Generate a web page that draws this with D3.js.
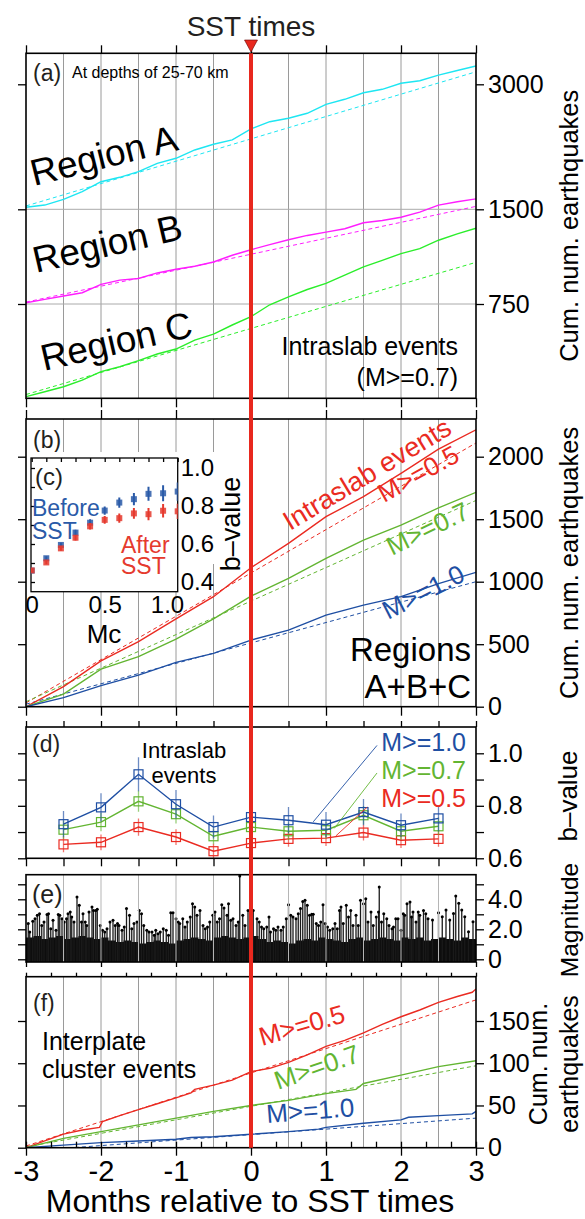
<!DOCTYPE html>
<html>
<head>
<meta charset="utf-8">
<script src="https://cdn.jsdelivr.net/npm/d3@7"></script>
<style>
  body { margin: 0; background: #fff; }
  text { font-family: "Liberation Sans", Arial, Helvetica, sans-serif; }
</style>
</head>
<body>
<div id="chart"></div>
<script>
// ---- data ----
var months = [-3, -2, -1, 0, 1, 2, 3];
var halfMonths = [-3, -2.5, -2, -1.5, -1, -0.5, 0, 0.5, 1, 1.5, 2, 2.5, 3];
var gridMonths = [-2.5, -2, -1.5, -1, -0.5, 0.5, 1, 1.5, 2, 2.5];
var quarterMonths = [-3, -2.75, -2.5, -2.25, -2, -1.75, -1.5, -1.25, -1, -0.75, -0.5, -0.25, 0,
  0.25, 0.5, 0.75, 1, 1.25, 1.5, 1.75, 2, 2.25, 2.5, 2.75, 3];
var fitMonths = [-3, 3];

// (a) cumulative counts, offset per region (axis units)
var regionA = [1524, 1551, 1620, 1711, 1831, 1884, 1951, 2052, 2112, 2212, 2280, 2332, 2464,
  2551, 2592, 2652, 2760, 2820, 2899, 2940, 3012, 3043, 3110, 3165, 3220];
var regionB = [760, 787, 813, 839, 905, 939, 952, 996, 1025, 1049, 1083, 1136, 1180,
  1220, 1259, 1293, 1319, 1346, 1393, 1411, 1437, 1477, 1550, 1590, 1625];
var regionC = [13, 52, 92, 145, 212, 251, 299, 352, 392, 463, 511, 583, 649,
  744, 807, 865, 913, 978, 1044, 1096, 1149, 1188, 1255, 1305, 1350];
var fitA = [1540, 3150], fitB = [765, 1535], fitC = [30, 1080];
var ticksA = [750, 1500, 3000];

// (b) regions A+B+C
var intraM05 = [0, 160, 366, 520, 702, 880, 1112, 1307, 1520, 1680, 1867, 2060, 2215];
var intraM07 = [0, 101, 301, 400, 541, 702, 885, 1027, 1187, 1333, 1453, 1590, 1715];
var intraM10 = [0, 72, 168, 253, 355, 427, 533, 613, 733, 813, 880, 985, 1075];
var fitB05 = [30, 2110], fitB07 = [40, 1650], fitB10 = [20, 1000];
var ticksB = [0, 500, 1000, 1500, 2000];

// (c) b-value vs Mc
var mc = [0, 0.1, 0.2, 0.3, 0.4, 0.5, 0.6, 0.7, 0.8, 0.9, 1.0];
var bBefore = [0.46, 0.525, 0.595, 0.66, 0.712, 0.776, 0.818, 0.836, 0.864, 0.867, 0.876];
var bBeforeErr = [0.01, 0.01, 0.012, 0.015, 0.018, 0.022, 0.027, 0.032, 0.037, 0.042, 0.048];
var bAfter = [0.461, 0.503, 0.577, 0.633, 0.693, 0.727, 0.736, 0.761, 0.757, 0.775, 0.772];
var bAfterErr = [0.01, 0.01, 0.012, 0.014, 0.017, 0.02, 0.024, 0.028, 0.032, 0.036, 0.04];

// (d) b-value in half-month bins
var binCenters = [-2.5, -2, -1.5, -1, -0.5, 0, 0.5, 1, 1.5, 2, 2.5];
var bM10 = [0.730, 0.794, 0.92, 0.806, 0.719, 0.757, 0.745, 0.728, 0.776, 0.726, 0.752];
var bM10Err = [0.05, 0.054, 0.065, 0.054, 0.044, 0.045, 0.05, 0.048, 0.05, 0.045, 0.05];
var bM07 = [0.709, 0.738, 0.817, 0.768, 0.684, 0.719, 0.703, 0.707, 0.764, 0.703, 0.722];
var bM07Err = [0.035, 0.035, 0.04, 0.035, 0.03, 0.032, 0.033, 0.032, 0.035, 0.032, 0.033];
var bM05 = [0.653, 0.661, 0.719, 0.681, 0.627, 0.658, 0.674, 0.677, 0.698, 0.669, 0.674];
var bM05Err = [0.03, 0.03, 0.033, 0.03, 0.028, 0.03, 0.03, 0.03, 0.03, 0.03, 0.03];

// (e) magnitudes: dense low-magnitude floor every 0.1 month + individual larger events
var floorM = [1.45, 1.55, 1.35, 1.45, 1.55, 1.35, 1.45, 1.55, 1.45, 1.35, 1.45,
  1.25, 1.15, 1.25, 1.15, 1.05, 1.15, 1.25, 1.15, 1.05, 1.25,
  1.35, 1.45, 1.35, 1.25, 1.45, 1.55, 1.45, 1.35, 1.45, 1.55,
  1.35, 1.15, 1.25, 1.15, 1.05, 1.25, 1.35, 1.25, 1.45, 1.35,
  1.25, 1.15, 1.35, 1.45, 1.25, 1.35, 1.45, 1.35, 1.25, 1.45,
  1.35, 1.45, 1.25, 1.35, 1.45, 1.35, 1.25, 1.45, 1.35, 1.25];
var events = [[-2.97,2.38],[-2.95,1.82],[-2.91,2.53],[-2.88,2.71],[-2.85,2.93],[-2.82,3.04],[-2.79,2.26],
  [-2.76,2.49],[-2.72,2.98],[-2.70,3.04],[-2.67,2.04],[-2.64,2.6],[-2.60,1.93],[-2.57,2.98],[-2.55,2.93],
  [-2.52,2.71],[-2.49,2.49],[-2.46,2.71],[-2.44,3.04],[-2.41,3.15],[-2.39,2.82],[-2.36,2.49],[-2.32,4.15],
  [-2.29,3.6],[-2.26,2.49],[-2.24,3.04],[-2.21,2.49],[-2.19,2.26],[-2.16,3.15],[-2.12,3.49],[-2.10,3.26],
  [-2.07,3.26],[-2.05,3.33],[-2.01,2.26],[-1.98,1.93],[-1.95,1.82],[-1.92,2.04],[-1.88,2.49],[-1.84,2.6],
  [-1.81,2.26],[-1.78,2.38],[-1.76,2.26],[-1.72,1.93],[-1.69,2.15],[-1.66,3.38],[-1.62,2.93],[-1.59,2.04],
  [-1.56,2.38],[-1.52,2.49],[-1.49,3.26],[-1.46,3.04],[-1.43,2.26],[-1.39,1.93],[-1.36,1.82],[-1.32,1.82],
  [-1.29,1.6],[-1.27,1.93],[-1.24,1.71],[-1.21,1.82],[-1.17,2.04],[-1.13,1.93],[-1.10,1.6],[-1.07,3.11],
  [-1.04,3.11],[-1.00,2.71],[-0.97,2.49],[-0.95,2.38],[-0.91,2.71],[-0.88,2.15],[-0.85,2.49],[-0.81,2.82],
  [-0.78,3.71],[-0.75,3.49],[-0.72,2.93],[-0.68,3.26],[-0.64,2.26],[-0.61,2.04],[-0.58,2.15],[-0.55,2.49],
  [-0.51,2.93],[-0.48,3.15],[-0.45,2.49],[-0.42,2.71],[-0.39,3.64],[-0.36,3.42],[-0.32,2.93],[-0.30,3.71],
  [-0.27,2.6],[-0.24,2.71],[-0.20,2.26],[-0.17,2.49],[-0.15,5.55],[-0.11,2.93],[-0.08,2.26],[-0.04,3.26],
  [0.03,3.26],[0.08,2.71],[0.11,2.49],[0.14,2.15],[0.17,2.04],[0.21,2.15],[0.24,2.82],[0.26,1.82],
  [0.30,2.04],[0.33,1.93],[0.36,2.15],[0.40,1.93],[0.43,2.15],[0.47,2.71],[0.50,3.64],[0.53,2.93],
  [0.56,2.82],[0.60,2.71],[0.63,3.04],[0.66,3.38],[0.69,3.86],[0.72,3.93],[0.75,3.6],[0.78,2.93],
  [0.81,3.0],[0.83,3.0],[0.87,2.38],[0.90,2.26],[0.93,2.49],[0.96,3.64],[0.99,2.38],[1.02,2.15],
  [1.05,1.93],[1.09,2.04],[1.12,2.38],[1.15,2.04],[1.18,3.26],[1.20,3.49],[1.23,2.38],[1.27,3.6],
  [1.30,2.82],[1.33,3.26],[1.36,2.26],[1.40,2.93],[1.43,2.26],[1.46,3.93],[1.50,3.71],[1.53,4.04],
  [1.56,2.49],[1.60,3.15],[1.63,2.26],[1.67,2.82],[1.70,3.15],[1.71,4.82],[1.74,2.49],[1.77,3.04],
  [1.81,2.71],[1.84,2.26],[1.88,2.04],[1.90,2.15],[1.93,2.71],[1.96,2.71],[2.00,1.93],[2.03,3.04],
  [2.05,2.93],[2.08,3.71],[2.12,3.82],[2.14,2.82],[2.16,3.15],[2.20,2.49],[2.23,3.15],[2.25,2.93],
  [2.30,3.26],[2.33,3.04],[2.36,2.71],[2.42,2.62],[2.50,3.1],[2.55,2.84],[2.60,3.29],[2.65,2.62],
  [2.70,3.06],[2.73,4.22],[2.77,3.73],[2.81,3.29],[2.85,2.84],[2.90,1.84],[2.96,2.51]];

// (f) interplate cluster events
var interM05Months = [-3, -2.75, -2.5, -2.25, -2.02, -1.98, -1.75, -1.5, -1.25, -1, -0.8, -0.75, -0.5, -0.25, 0,
  0.25, 0.5, 0.75, 1, 1.25, 1.5, 1.75, 2, 2.25, 2.5, 2.75, 2.95, 3];
var interM05 = [0, 8, 16, 21, 24, 31, 38, 45, 52, 59, 65, 69, 74, 80, 90,
  94, 101, 110, 120, 127, 136, 146, 155, 163, 172, 179, 184, 188];
var interM07Months = [-3, -2.5, -2, -1.5, -1, -0.5, 0, 0.5, 1, 1.4, 1.5, 2, 2.5, 3];
var interM07 = [0, 11, 19, 27, 35, 43, 50, 56, 64, 69, 76, 86, 96, 103];
var interM10Months = [-3, -2.5, -2, -1.5, -1, -0.8, -0.5, 0, 0.5, 0.9, 1, 1.5, 2, 2.1, 2.5, 2.95, 3];
var interM10 = [0, 3, 6, 8, 10, 12, 13, 16, 19, 22, 24, 29, 33, 36, 38, 40, 43];
var fitF05 = [2, 175], fitF07 = [1, 97], fitF10 = [-4, 35];
var ticksF = [0, 50, 100, 150];

// ---- layout ----
var width = 585, height = 1219;
var RED = "#e8281e", CYAN = "#1ee6f2", MAGENTA = "#ff1eff", LIME = "#2bee2b";
var R2 = "#ea2b22", G2 = "#63b532", B2 = "#1f4fa3";

var svg = d3.select("#chart").append("svg")
  .attr("width", width).attr("height", height);

var x = d3.scaleLinear().domain([-3, 3]).range([26, 476]);
var xL = 26, xR = 476;

var yA = d3.scaleLinear().domain([0, 750, 1500, 3000]).range([398.3, 304, 209.3, 84.3]);
var yB = d3.scaleLinear().domain([0, 2000]).range([706.7, 456.7]);
var yD = d3.scaleLinear().domain([0.6, 1.0]).range([858.3, 753.3]);
var yE = d3.scaleLinear().domain([0, 5]).range([959.3, 884.3]);
var yF = d3.scaleLinear().domain([0, 150]).range([1147.7, 1021]);
var xC = d3.scaleLinear().domain([0, 1]).range([31.7, 177.7]);
var yC = d3.scaleLinear().domain([0.4, 1.0]).range([582, 468]);

var pA = [53.3, 398.3], pB = [419, 706.7], pD = [727, 858.3], pE = [874.7, 962], pF = [976.7, 1147.7];

var defs = svg.append("defs");
function clip(id, x0, y0, x1, y1) {
  defs.append("clipPath").attr("id", id).append("rect")
    .attr("x", x0).attr("y", y0).attr("width", x1 - x0).attr("height", y1 - y0);
}
clip("cA", xL, pA[0], xR, pA[1]);
clip("cB", xL, pB[0], xR, pB[1]);
clip("cD", xL, pD[0], xR, pD[1]);
clip("cE", xL, pE[0], xR, pE[1]);
clip("cF", xL, pF[0], xR, pF[1]);
clip("cC", 31, 458, 177.7, 591.7);

function gridX(p, color) {
  svg.append("g").selectAll("line").data(gridMonths).enter().append("line")
    .attr("x1", function(d) { return x(d); }).attr("x2", function(d) { return x(d); })
    .attr("y1", p[0]).attr("y2", p[1])
    .attr("stroke", color).attr("stroke-width", 1);
}

function series(times, values, y, color, w, dash, clipId) {
  var line = d3.line().x(function(d) { return x(d[0]); }).y(function(d) { return y(d[1]); });
  svg.append("path").datum(d3.zip(times, values))
    .attr("fill", "none").attr("stroke", color)
    .attr("stroke-width", w)
    .attr("stroke-dasharray", dash ? "4,3" : null)
    .attr("clip-path", "url(#" + clipId + ")")
    .attr("d", line);
}

function styleAxis(g, size) {
  g.attr("font-family", null).attr("font-size", null);
  g.select(".domain").remove();
  g.selectAll(".tick line").attr("stroke", "#000").attr("stroke-width", 1.3);
  g.selectAll(".tick text").attr("fill", "#000").style("font-size", size + "px");
}

function axis(a, tx, ty, size) {
  var g = svg.append("g").attr("transform", "translate(" + tx + "," + ty + ")").call(a);
  styleAxis(g, size || 25);
  return g;
}

function frame(p) {
  svg.append("rect").attr("x", xL).attr("y", p[0])
    .attr("width", xR - xL).attr("height", p[1] - p[0])
    .attr("fill", "none").attr("stroke", "#000").attr("stroke-width", 1.6);
}

function label(txt, px, py, size, color, angle, anchor) {
  svg.append("text")
    .attr("transform", "translate(" + px + "," + py + ") rotate(" + (angle || 0) + ")")
    .attr("text-anchor", anchor || "start")
    .attr("fill", color || "#000")
    .style("font-size", size + "px")
    .text(txt);
}

var fmt1 = d3.format(".1f");
var plain = function(d) { return String(d); };

// ---------- panel (a) ----------
gridX(pA, "#9a9a9a");
svg.append("g").selectAll("line").data([750, 1500]).enter().append("line")
  .attr("x1", xL).attr("x2", xR)
  .attr("y1", function(d) { return yA(d); }).attr("y2", function(d) { return yA(d); })
  .attr("stroke", "#aaa").attr("stroke-width", 1);

series(fitMonths, fitA, yA, CYAN, 1, true, "cA");
series(fitMonths, fitB, yA, MAGENTA, 1, true, "cA");
series(fitMonths, fitC, yA, LIME, 1, true, "cA");
series(quarterMonths, regionA, yA, CYAN, 1.4, false, "cA");
series(quarterMonths, regionB, yA, MAGENTA, 1.4, false, "cA");
series(quarterMonths, regionC, yA, LIME, 1.4, false, "cA");
frame(pA);

axis(d3.axisTop(x).tickValues(months).tickSize(8).tickFormat(""), 0, pA[0]);
axis(d3.axisBottom(x).tickValues(months).tickSize(9).tickFormat(""), 0, pA[1]);
axis(d3.axisLeft(yA).tickValues(ticksA).tickSize(8).tickFormat(""), xL, 0);
axis(d3.axisRight(yA).tickValues(ticksA).tickSize(8).tickPadding(4).tickFormat(plain), xR, 0);

label("(a)", 33, 81, 23, "#231f20");
label("At depths of 25-70 km", 72, 78, 16);
label("Region A", 34, 186, 37, "#000", -14);
label("Region B", 36, 273, 37, "#000", -13);
label("Region C", 44, 371, 37, "#000", -13);
label("Intraslab events", 458, 355, 25, "#000", 0, "end");
label("(M>=0.7)", 458, 386, 25, "#000", 0, "end");

// ---------- panel (b) ----------
gridX(pB, "#9a9a9a");
series(fitMonths, fitB05, yB, R2, 1, true, "cB");
series(fitMonths, fitB07, yB, G2, 1, true, "cB");
series(fitMonths, fitB10, yB, B2, 1, true, "cB");
series(halfMonths, intraM05, yB, R2, 1.4, false, "cB");
series(halfMonths, intraM07, yB, G2, 1.4, false, "cB");
series(halfMonths, intraM10, yB, B2, 1.4, false, "cB");
frame(pB);

axis(d3.axisTop(x).tickValues(months).tickSize(9).tickFormat(""), 0, pB[0]);
axis(d3.axisBottom(x).tickValues(months).tickSize(9).tickFormat(""), 0, pB[1]);
axis(d3.axisLeft(yB).tickValues(ticksB).tickSize(8).tickFormat(""), xL, 0);
axis(d3.axisRight(yB).tickValues(ticksB).tickSize(8).tickPadding(4).tickFormat(plain), xR, 0);

label("(b)", 33, 448, 23, "#231f20");
label("Intraslab events", 290, 531, 27, R2, -31);
label("M>=0.5", 384, 503, 26, R2, -29);
label("M>=0.7", 392, 556, 26, G2, -26);
label("M>=1.0", 388, 620, 26, B2, -27);
label("Regions", 471, 661, 33, "#000", 0, "end");
label("A+B+C", 471, 698, 33, "#000", 0, "end");

// ---------- inset (c) ----------
svg.append("rect").attr("x", 28).attr("y", 452).attr("width", 218).attr("height", 112).attr("fill", "#fff");
svg.append("rect").attr("x", 28).attr("y", 452).attr("width", 150).attr("height", 140).attr("fill", "#fff");
svg.append("rect").attr("x", 31).attr("y", 458).attr("width", 146.7).attr("height", 133.7)
  .attr("fill", "#fff").attr("stroke", "#000").attr("stroke-width", 1.3);

var ciTop = svg.append("g").attr("transform", "translate(0,458)")
  .call(d3.axisBottom(xC).tickValues(mc).tickSize(4).tickFormat(""));
styleAxis(ciTop, 22);
var ciLeft = svg.append("g").attr("transform", "translate(31,0)")
  .call(d3.axisRight(yC).tickValues([0.4, 0.5, 0.6, 0.7, 0.8, 0.9, 1.0]).tickSize(4).tickFormat(""));
styleAxis(ciLeft, 22);
var ciRight = svg.append("g").attr("transform", "translate(177.7,0)")
  .call(d3.axisRight(yC).tickValues([0.4, 0.6, 0.8, 1.0]).tickSize(0).tickPadding(3).tickFormat(fmt1));
styleAxis(ciRight, 24);
var ciBottom = svg.append("g").attr("transform", "translate(0,591.7)")
  .call(d3.axisBottom(xC).tickValues([0, 0.5, 1.0]).tickSize(0).tickPadding(4)
    .tickFormat(function(d) { return d === 0 ? "0" : fmt1(d); }));
styleAxis(ciBottom, 24);
// the last inset label sits left of its tick, as in the figure
ciBottom.selectAll(".tick text").filter(function(d) { return d === 1; })
  .attr("text-anchor", "end").attr("x", 6);

function insetPoints(vals, errs, color, dx) {
  var g = svg.append("g").attr("clip-path", "url(#cC)");
  g.selectAll("line").data(mc).enter().append("line")
    .attr("x1", function(d) { return xC(d) + dx; }).attr("x2", function(d) { return xC(d) + dx; })
    .attr("y1", function(d, i) { return yC(vals[i] - errs[i]); })
    .attr("y2", function(d, i) { return yC(vals[i] + errs[i]); })
    .attr("stroke", color).attr("stroke-width", 2);
  g.selectAll("rect").data(mc).enter().append("rect")
    .attr("x", function(d) { return xC(d) + dx - 3; })
    .attr("y", function(d, i) { return yC(vals[i]) - 3; })
    .attr("width", 6).attr("height", 6)
    .attr("fill", color).attr("fill-opacity", 0.85);
}
insetPoints(bBefore, bBeforeErr, "#2a5aa8", 0);
insetPoints(bAfter, bAfterErr, "#e53a2e", 0);

label("(c)", 35, 485, 24, "#231f20");
label("Before", 32, 516, 23, "#2a5aa8");
label("SST", 32, 539, 23, "#2a5aa8");
label("After", 121, 553, 23, "#e53a2e");
label("SST", 121, 574, 23, "#e53a2e");
label("b\u2013value", 240, 524, 27, "#000", -90, "middle");
label("Mc", 104, 643, 26, "#000", 0, "middle");

// ---------- panel (d) ----------
function bSeries(vals, errs, color) {
  var g = svg.append("g").attr("clip-path", "url(#cD)");
  g.selectAll("line.err").data(binCenters).enter().append("line")
    .attr("x1", function(d) { return x(d); }).attr("x2", function(d) { return x(d); })
    .attr("y1", function(d, i) { return yD(vals[i] - errs[i]); })
    .attr("y2", function(d, i) { return yD(vals[i] + errs[i]); })
    .attr("stroke", color).attr("stroke-opacity", 0.65).attr("stroke-width", 1.3);
  g.append("path").datum(d3.zip(binCenters, vals))
    .attr("fill", "none").attr("stroke", color).attr("stroke-width", 1.4)
    .attr("d", d3.line().x(function(d) { return x(d[0]); }).y(function(d) { return yD(d[1]); }));
  g.selectAll("rect").data(binCenters).enter().append("rect")
    .attr("x", function(d) { return x(d) - 4.5; })
    .attr("y", function(d, i) { return yD(vals[i]) - 4.5; })
    .attr("width", 9).attr("height", 9)
    .attr("fill", "none").attr("stroke", color).attr("stroke-width", 1.2);
}
bSeries(bM05, bM05Err, R2);
bSeries(bM07, bM07Err, G2);
bSeries(bM10, bM10Err, B2);
frame(pD);

axis(d3.axisTop(x).tickValues(halfMonths).tickSize(6).tickFormat(""), 0, pD[0]);
axis(d3.axisBottom(x).tickValues(halfMonths).tickSize(8).tickFormat(""), 0, pD[1]);
axis(d3.axisLeft(yD).tickValues([0.6, 0.7, 0.8, 0.9, 1.0]).tickSize(8).tickFormat(""), xL, 0);
axis(d3.axisRight(yD).tickValues([0.6, 0.7, 0.8, 0.9, 1.0]).tickSize(8).tickPadding(4)
  .tickFormat(function(d) { return Math.round(d * 10) % 2 === 0 ? fmt1(d) : ""; }), xR, 0);

// leader lines from labels to the curves
var leaders = [[1.68, 1.03, 0.83, 0.739, B2], [1.68, 0.925, 1.11, 0.714, G2], [1.55, 0.795, 1.13, 0.685, R2]];
svg.append("g").selectAll("line").data(leaders).enter().append("line")
  .attr("x1", function(d) { return x(d[0]); }).attr("y1", function(d) { return yD(d[1]); })
  .attr("x2", function(d) { return x(d[2]); }).attr("y2", function(d) { return yD(d[3]); })
  .attr("stroke", function(d) { return d[4]; }).attr("stroke-width", 0.9);

label("(d)", 32, 752, 23, "#231f20");
label("Intraslab", 184, 758, 22, "#000", 0, "middle");
label("events", 184, 783, 22, "#000", 0, "middle");
label("M>=1.0", 466, 751, 25, B2, 0, "end");
label("M>=0.7", 466, 779, 25, G2, 0, "end");
label("M>=0.5", 466, 807, 25, R2, 0, "end");

// ---------- panel (e) ----------
var floorMonths = floorM.map(function(d, i) { return -3 + i * 0.1; });
svg.append("path").datum(d3.zip(floorMonths, floorM))
  .attr("clip-path", "url(#cE)")
  .attr("fill", "#0d0d0d")
  .attr("d", d3.area().curve(d3.curveStepAfter)
    .x(function(d) { return x(d[0]); })
    .y0(pE[1])
    .y1(function(d) { return yE(d[1]); }));

var stems = svg.append("g").attr("clip-path", "url(#cE)");
stems.selectAll("line").data(events).enter().append("line")
  .attr("x1", function(d) { return x(d[0]); }).attr("x2", function(d) { return x(d[0]); })
  .attr("y1", pE[1]).attr("y2", function(d) { return yE(d[1]); })
  .attr("stroke", "#1a1a1a").attr("stroke-width", 1.3);
stems.selectAll("circle").data(events).enter().append("circle")
  .attr("cx", function(d) { return x(d[0]); }).attr("cy", function(d) { return yE(d[1]); })
  .attr("r", 1.5).attr("fill", "#000");
gridX(pE, "#b5b5b5");
frame(pE);

axis(d3.axisBottom(x).tickValues(months).tickSize(5).tickFormat(""), 0, pE[1]);
axis(d3.axisLeft(yE).tickValues([0, 1, 2, 3, 4, 5]).tickSize(8).tickFormat(""), xL, 0);
axis(d3.axisRight(yE).tickValues([0, 1, 2, 3, 4, 5]).tickSize(8).tickPadding(4)
  .tickFormat(function(d) { return d === 0 ? "0" : (d % 2 === 0 ? fmt1(d) : ""); }), xR, 0);
label("(e)", 32, 903, 25, "#231f20");

// ---------- panel (f) ----------
gridX(pF, "#9a9a9a");
series(fitMonths, fitF05, yF, R2, 1, true, "cF");
series(fitMonths, fitF07, yF, G2, 1, true, "cF");
series(fitMonths, fitF10, yF, B2, 1, true, "cF");
series(interM05Months, interM05, yF, R2, 1.4, false, "cF");
series(interM07Months, interM07, yF, G2, 1.4, false, "cF");
series(interM10Months, interM10, yF, B2, 1.4, false, "cF");
frame(pF);

var thirds = d3.range(0, 19).map(function(i) { return -3 + i / 3; });
axis(d3.axisTop(x).tickValues(thirds).tickSize(4).tickFormat(""), 0, pF[0]);
axis(d3.axisTop(x).tickValues(thirds).tickSize(6).tickFormat(""), 0, pF[1]);
axis(d3.axisBottom(x).tickValues(months).tickSize(8).tickPadding(5).tickFormat(plain), 0, pF[1], 29);
axis(d3.axisLeft(yF).tickValues(ticksF).tickSize(8).tickFormat(""), xL, 0);
axis(d3.axisRight(yF).tickValues(ticksF).tickSize(8).tickPadding(4).tickFormat(plain), xR, 0);

label("(f)", 33, 1011, 23, "#231f20");
label("Interplate", 42, 1050, 25);
label("cluster events", 42, 1078, 25);
label("M>=0.5", 262, 1046, 26, R2, -16);
label("M>=0.7", 278, 1090, 26, G2, -19);
label("M>=1.0", 267, 1123, 26, B2, -4.5);

// ---------- right-side titles ----------
label("Cum. num. earthquakes", 578, (pA[0] + pA[1]) / 2, 25.5, "#000", -90, "middle");
label("Cum. num. earthquakes", 578, (pB[0] + pB[1]) / 2, 25.5, "#000", -90, "middle");
label("b\u2013value", 577, 796, 26, "#000", -90, "middle");
label("Magnitude", 578, 920, 24.5, "#000", -90, "middle");
label("Cum. num.", 547, 1064, 25, "#000", -90, "middle");
label("earthquakes", 578, 1064, 25, "#000", -90, "middle");

// ---------- SST marker ----------
svg.append("line")
  .attr("x1", x(0)).attr("x2", x(0))
  .attr("y1", pA[0]).attr("y2", pF[1])
  .attr("stroke", RED).attr("stroke-width", 4);
svg.append("path")
  .attr("d", "M" + (x(0) - 6.5) + ",40 L" + (x(0) + 6.5) + ",40 L" + x(0) + ",52 Z")
  .attr("fill", RED).attr("stroke", "#600").attr("stroke-width", 0.6);

label("SST times", x(0), 36, 28, "#231f20", 0, "middle");
label("Months relative to SST times", 250, 1212, 32, "#000", 0, "middle");
</script>
</body>
</html>
